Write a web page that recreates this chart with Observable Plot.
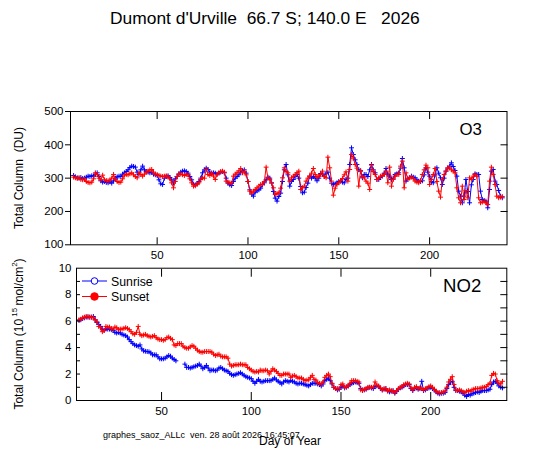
<!DOCTYPE html>
<html><head><meta charset="utf-8">
<script src="https://cdn.jsdelivr.net/npm/d3@7"></script>
<script src="https://cdn.jsdelivr.net/npm/@observablehq/plot@0.6"></script>
<style>
body{margin:0;background:#fff;}
#chart{position:relative;width:540px;height:453px;font-family:"Liberation Sans",Arial,sans-serif;}
#chart svg{position:absolute;left:0;top:0;}
#chart svg.overlay text{white-space:pre;}
</style></head><body><div id="chart"></div>
<script>
const firstDay = 4;
const o3Sunrise = [
308,304,301,300,302,299,300,303,306,305,
307,306,312,316,305,292,288,290,287,286,
289,285,292,300,304,306,305,312,316,320,
325,332,336,335,333,318,311,325,336,325,
320,318,316,318,312,310,308,295,283,281,
300,305,307,302,295,286,298,305,312,318,
321,322,320,315,305,295,282,280,283,290,
300,316,325,330,326,318,314,316,315,312,
315,318,320,316,300,285,280,278,290,300,
305,310,318,320,325,315,290,265,252,246,
258,262,265,270,280,286,295,303,300,286,
260,240,231,245,255,290,325,341,310,276,
290,296,305,311,300,275,256,258,272,285,
306,300,305,300,292,300,314,311,305,315,
318,300,285,281,283,286,290,291,288,286,
296,300,341,391,371,355,341,325,321,301,
311,311,305,325,341,325,316,296,296,302,
306,315,329,312,306,296,300,311,313,316,
330,359,331,291,300,301,306,303,301,295,
291,290,292,310,331,318,306,290,286,310,
331,315,301,281,300,321,330,336,346,335,
323,306,261,246,226,246,296,260,226,280,
296,313,311,311,261,236,233,231,211,266,
321,326,291,281,263,246,241];
const o3Sunset = [
303,301,299,301,296,295,297,290,287,286,
288,298,316,311,300,295,309,295,293,292,
294,300,311,296,290,287,288,298,309,311,
310,313,316,310,305,301,316,311,306,312,
318,321,325,326,318,312,311,308,306,305,
306,307,304,298,286,271,290,305,313,312,
310,308,311,310,298,286,276,277,282,286,
296,301,300,326,311,308,316,306,296,311,
316,320,321,318,291,288,286,285,306,312,
316,322,329,316,320,310,290,261,255,261,
266,271,276,281,282,290,333,300,296,285,
271,251,254,256,270,301,331,320,316,291,
301,306,311,316,321,266,271,276,291,300,
306,315,329,311,303,306,311,321,305,301,
363,331,291,249,270,281,286,293,299,310,
319,291,326,371,360,341,330,276,323,305,
301,291,285,266,339,320,311,296,300,306,
308,311,321,286,333,276,296,306,311,311,
336,351,271,316,296,301,303,299,291,288,
286,293,311,325,339,331,281,296,311,329,
290,261,243,296,311,321,331,331,325,321,
316,271,241,226,276,236,263,241,301,296,
306,311,306,241,226,228,231,226,221,291,
333,311,281,246,241,243,245];
const no2Sunrise = [
6.05,6.1,6.2,6.25,6.3,6.3,6.3,6.3,6.35,6.1,
5.9,5.75,5.6,5.35,5.3,5.4,5.4,5.4,5.35,5.3,
5.15,5.1,5.15,5.1,5.0,4.95,4.9,4.8,4.6,4.45,
4.3,4.2,4.15,4.1,4.2,3.9,3.75,3.72,3.7,3.68,
3.6,3.45,3.45,3.45,3.3,3.15,3.15,3.15,3.2,3.3,
3.4,3.35,3.2,3.1,3.0,null,null,null,null,2.75,
2.5,2.5,2.45,2.5,2.55,2.6,2.65,2.75,2.6,2.4,
2.5,2.65,2.45,2.25,2.3,2.3,2.25,2.3,2.45,2.5,
2.4,2.3,2.25,2.2,2.05,1.95,1.9,1.95,2.0,2.05,
2.1,2.0,1.9,1.8,1.75,1.7,1.65,1.45,1.3,1.45,
1.6,1.45,1.4,1.45,1.5,1.5,1.5,1.5,1.6,1.7,
1.55,1.45,1.35,1.25,1.4,1.5,1.45,1.4,1.5,1.45,
1.4,1.3,1.25,1.3,1.3,1.25,1.2,1.15,1.1,1.2,
1.3,1.3,1.3,1.25,1.2,1.1,1.25,1.5,1.6,1.7,
1.5,1.25,1.0,0.9,0.8,0.85,1.0,1.1,0.95,1.0,
1.1,1.2,1.3,1.35,1.4,1.35,1.3,0.9,0.8,0.8,
0.85,0.95,1.0,0.95,0.9,1.05,1.1,1.05,0.9,0.8,
0.85,0.9,0.75,0.65,0.7,0.75,0.55,0.7,0.85,0.95,
1.0,1.1,1.2,1.2,1.2,0.9,0.75,0.9,0.95,0.85,
0.9,1.45,0.75,0.8,0.9,0.95,1.0,0.9,0.8,0.65,
0.55,0.5,0.55,0.55,0.6,0.9,1.2,1.4,1.45,1.0,
0.75,0.75,0.7,0.65,0.55,0.4,0.3,0.45,0.4,0.5,
0.55,0.6,0.65,0.6,0.7,0.75,0.75,0.75,0.8,0.85,
1.2,1.4,1.45,1.3,1.1,1.0,0.95];
const no2Sunset = [
6.1,6.15,6.25,6.3,6.35,6.35,6.3,6.3,6.25,6.1,
5.95,5.6,5.5,5.2,5.3,5.6,5.55,5.55,5.45,5.4,
5.55,5.5,5.35,5.4,5.4,5.45,5.5,5.45,5.35,5.2,
5.05,5.0,5.15,5.6,5.0,4.9,4.95,5.0,4.9,4.85,
4.8,4.85,4.9,4.75,4.65,4.6,4.6,4.55,4.6,4.75,
4.8,4.7,4.6,4.2,4.15,4.3,4.3,4.3,4.1,4.0,
3.95,3.95,4.05,4.15,4.1,3.95,3.8,3.7,3.65,3.65,
3.7,3.7,3.7,3.7,3.65,3.5,3.4,3.45,3.5,3.35,
3.3,3.3,3.3,3.2,2.75,2.6,2.65,2.7,2.7,2.7,
2.75,2.7,2.7,2.7,2.5,2.4,2.3,2.2,2.15,2.2,
2.15,2.3,2.25,2.25,2.3,2.25,2.0,2.2,2.4,2.3,
2.2,2.05,1.9,1.9,2.0,2.0,2.0,2.0,1.75,1.85,
1.9,1.8,1.7,1.7,1.7,1.6,1.5,1.55,1.55,1.75,
1.9,1.6,1.55,1.35,1.3,1.25,1.4,1.75,1.9,2.0,
1.8,1.3,1.0,0.9,0.9,0.9,1.2,1.25,1.0,1.05,
1.1,1.3,1.5,1.5,1.5,1.45,1.4,0.8,0.75,0.85,
0.9,1.0,1.0,1.0,1.0,1.4,1.15,1.1,0.95,0.8,
0.9,0.9,0.7,0.8,0.75,0.7,0.6,0.75,0.9,1.0,
1.05,1.2,1.25,1.3,1.25,0.95,0.8,1.0,1.05,0.9,
0.95,0.9,0.8,0.9,0.95,1.05,1.1,1.0,0.85,0.7,
0.6,0.6,0.6,0.65,0.7,1.0,1.4,1.6,1.8,1.2,
0.8,0.75,0.8,0.75,0.65,0.6,0.7,0.75,0.7,0.8,
0.85,0.9,0.9,0.9,0.95,1.0,1.0,1.05,1.2,1.3,
1.9,2.05,2.0,1.5,1.3,1.25,1.45];

const xTicks = [50, 100, 150, 200];
const o3TickLabels = [100, 200, 300, 400, 500];
const o3RightTicks = [200, 300, 400];
const no2TickLabels = [0, 2, 4, 6, 8, 10];
const no2MinorTicks = [1, 2, 3, 4, 5, 6, 7, 8, 9];

const title = "Dumont d'Urville  66.7 S; 140.0 E   2026";
const caption = "graphes_saoz_ALLc  ven. 28 août 2026 16:45:07";
const xLabel = "Day of Year";
const o3Label = "Total Column  (DU)";
const seriesNames = ["Sunrise", "Sunset"];
const colors = ["#0000ff", "#ff0000"];

const days = o3Sunrise.map((_, i) => firstDay + i);
const o3 = days.map((d, i) => ({day: d, sr: o3Sunrise[i], ss: o3Sunset[i]}));
const no2 = days.map((d, i) => ({day: d, sr: no2Sunrise[i], ss: no2Sunset[i]}));

const W = 540, H = 453;
const font = '"Liberation Sans", Arial, sans-serif';
const blank = () => "";
const style = {background: "transparent", fontFamily: font, fontSize: "11.5px", color: "black", overflow: "visible"};

function seriesMarks(data) {
  return [
    Plot.line(data, {x: "day", y: "sr", stroke: colors[0], strokeWidth: 1}),
    Plot.dot(data, {x: "day", y: "sr", stroke: colors[0], symbol: "plus", r: 1.7, strokeWidth: 1}),
    Plot.line(data, {x: "day", y: "ss", stroke: colors[1], strokeWidth: 1}),
    Plot.dot(data, {x: "day", y: "ss", stroke: colors[1], symbol: "plus", r: 1.7, strokeWidth: 1})
  ];
}

const topPlot = Plot.plot({
  width: W, height: H, style,
  marginLeft: 70, marginRight: 33.5, marginTop: 111, marginBottom: H - 244.3,
  x: {domain: [2.3, 242.6]},
  y: {domain: [100, 500]},
  marks: [
    ...seriesMarks(o3),
    Plot.frame({stroke: "black"}),
    Plot.axisX({anchor: "bottom", ticks: xTicks, tickSize: 0, tickPadding: 6, label: null}),
    Plot.axisX({anchor: "bottom", ticks: xTicks, tickSize: -7, tickPadding: 0, tickFormat: blank, label: null}),
    Plot.axisX({anchor: "top", ticks: xTicks, tickSize: -7, tickPadding: 0, tickFormat: blank, label: null}),
    Plot.axisY({anchor: "left", ticks: o3TickLabels, tickSize: 5, tickPadding: 2, label: null}),
    Plot.axisY({anchor: "right", ticks: o3RightTicks, tickSize: -7, tickPadding: 0, tickFormat: blank, label: null})
  ]
});

const botPlot = Plot.plot({
  width: W, height: H, style,
  marginLeft: 76, marginRight: 33.7, marginTop: 267.7, marginBottom: H - 400,
  x: {domain: [2.6, 242.4]},
  y: {domain: [0, 10]},
  marks: [
    ...seriesMarks(no2),
    Plot.frame({stroke: "black"}),
    Plot.axisX({anchor: "bottom", ticks: xTicks, tickSize: 0, tickPadding: 6, label: null}),
    Plot.axisX({anchor: "bottom", ticks: xTicks, tickSize: -8, tickPadding: 0, tickFormat: blank, label: null}),
    Plot.axisX({anchor: "top", ticks: xTicks, tickSize: -8, tickPadding: 0, tickFormat: blank, label: null}),
    Plot.axisY({anchor: "left", ticks: no2TickLabels, tickSize: 0, tickPadding: 5, label: null}),
    Plot.axisY({anchor: "left", ticks: no2MinorTicks, tickSize: -4, tickPadding: 0, tickFormat: blank, label: null}),
    Plot.axisY({anchor: "right", ticks: no2MinorTicks, tickSize: -7, tickPadding: 0, tickFormat: blank, label: null})
  ]
});

const root = document.getElementById("chart");
root.appendChild(topPlot);
root.appendChild(botPlot);

// overlay for titles, labels and legend
const svg = d3.select(root).append("svg").attr("class", "overlay")
  .attr("width", W).attr("height", H)
  .attr("xml:space", "preserve")
  .style("font-family", font);

svg.append("text").attr("x", 110).attr("y", 23.5)
  .attr("font-size", "17.4px").text(title);

svg.append("text").attr("x", 459.5).attr("y", 135)
  .attr("font-size", "16.8px").text("O3");
svg.append("text").attr("x", 443).attr("y", 291.7)
  .attr("font-size", "18.6px").text("NO2");

svg.append("text").attr("transform", "translate(22.8,178) rotate(-90)")
  .attr("text-anchor", "middle").attr("font-size", "12px").text(o3Label);

const yl = svg.append("text").attr("transform", "translate(22.8,334) rotate(-90)")
  .attr("text-anchor", "middle").attr("font-size", "12px");
yl.append("tspan").text("Total Column (10");
yl.append("tspan").attr("dy", -6).attr("font-size", "8px").text(" 15 ");
yl.append("tspan").attr("dy", 6).text("mol/cm");
yl.append("tspan").attr("dy", -6).attr("font-size", "8px").text("2");
yl.append("tspan").attr("dy", 6).text(")");

svg.append("text").attr("x", 290).attr("y", 444.5).attr("text-anchor", "middle")
  .attr("font-size", "12px").text(xLabel);
svg.append("text").attr("x", 103).attr("y", 438)
  .attr("font-size", "9px").text(caption);

// legend
const lg = [{y: 281, fill: "white"}, {y: 296.5, fill: colors[1]}];
seriesNames.forEach((name, i) => {
  const y = lg[i].y;
  svg.append("line").attr("x1", 82).attr("x2", 107).attr("y1", y).attr("y2", y)
    .attr("stroke", colors[i]).attr("stroke-width", 1);
  svg.append("circle").attr("cx", 94.5).attr("cy", y).attr("r", i === 0 ? 3.3 : 3.8)
    .attr("stroke", colors[i]).attr("fill", lg[i].fill).attr("stroke-width", 1);
  svg.append("text").attr("x", 111).attr("y", y + 4.5).attr("font-size", "12.3px").text(name);
});
</script></body></html>
